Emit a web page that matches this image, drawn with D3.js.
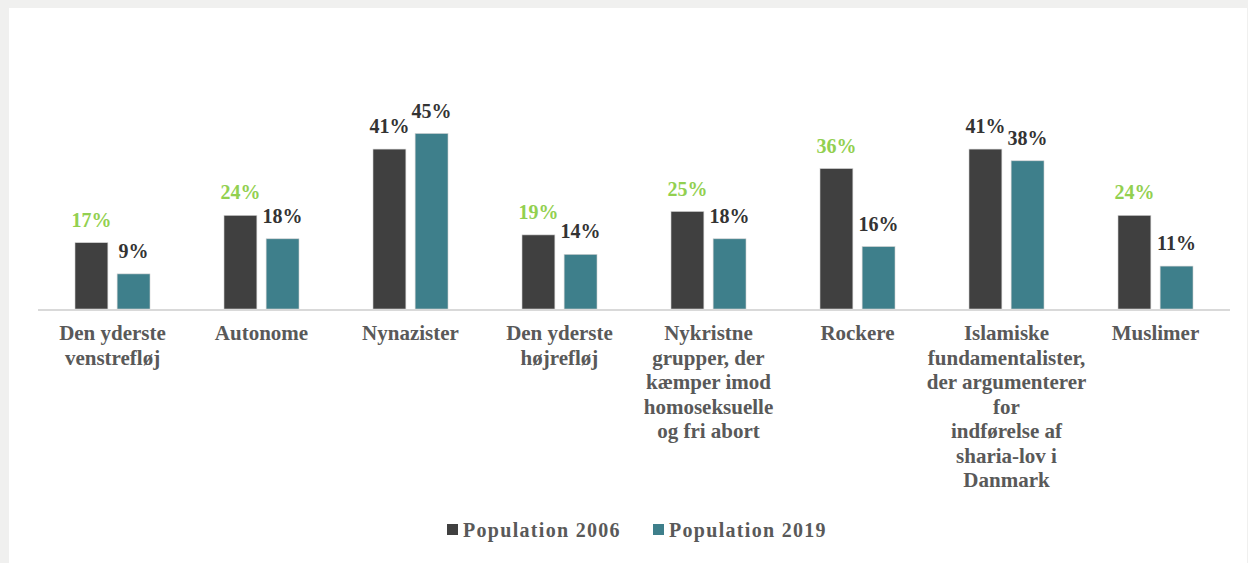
<!DOCTYPE html>
<html>
<head>
<meta charset="utf-8">
<script src="https://cdn.jsdelivr.net/npm/d3@7"></script>
<style>
  html, body { margin: 0; padding: 0; background: #f0f0ef; }
  svg { display: block; }
  text { font-family: "Liberation Serif", "Times New Roman", serif; font-weight: bold; }
</style>
</head>
<body>
<svg id="chart"></svg>
<script>
const categories = [
  ["Den yderste", "venstrefløj"],
  ["Autonome"],
  ["Nynazister"],
  ["Den yderste", "højrefløj"],
  ["Nykristne", "grupper, der", "kæmper imod", "homoseksuelle", "og fri abort"],
  ["Rockere"],
  ["Islamiske", "fundamentalister,", "der argumenterer", "for", "indførelse af", "sharia-lov i", "Danmark"],
  ["Muslimer"]
];
const series = ["Population 2006", "Population 2019"];
const pop2006 = [0.17, 0.24, 0.41, 0.19, 0.25, 0.36, 0.41, 0.24];
const pop2019 = [0.09, 0.18, 0.45, 0.14, 0.18, 0.16, 0.38, 0.11];
// 2006 labels shown in green in the original
const highlight2006 = [true, true, false, true, true, true, false, true];

const W = 1248, H = 563;
const colors = ["#404040", "#3e7f8b"];
const green = "#92d050";

const svg = d3.select("#chart").attr("width", W).attr("height", H);

// white panel
svg.append("rect")
  .attr("x", 9).attr("y", 8)
  .attr("width", W - 10).attr("height", H - 8)
  .attr("fill", "#fff");

const baseY = 309;
const keys = categories.map((c, i) => i);

let x0 = d3.scaleBand()
  .domain(keys)
  .range([38, 1230]);

let x1 = d3.scaleBand()
  .domain(series)
  .range([x0.bandwidth() / 2 - 37.5, x0.bandwidth() / 2 + 37.5])
  .paddingInner(0.22);

let y = d3.scaleLinear()
  .domain([0, 0.5])
  .range([baseY, 114]);

let data = keys.map(i => ({
  i: i,
  values: [
    {s: series[0], v: pop2006[i], hl: highlight2006[i]},
    {s: series[1], v: pop2019[i], hl: false}
  ]
}));

let groups = svg.append("g").selectAll("g")
  .data(data)
  .enter().append("g")
  .attr("transform", d => "translate(" + x0(d.i) + ",0)");

groups.selectAll("rect")
  .data(d => d.values)
  .enter().append("rect")
  .attr("x", d => x1(d.s))
  .attr("y", d => y(d.v))
  .attr("width", x1.bandwidth())
  .attr("height", d => baseY - y(d.v))
  .attr("fill", (d, j) => colors[j])
  .attr("stroke", "#d0d0d0")
  .attr("stroke-width", 0.6);

groups.selectAll("text.val")
  .data(d => d.values)
  .enter().append("text")
  .attr("class", "val")
  .attr("x", d => x1(d.s) + x1.bandwidth() / 2)
  .attr("y", d => y(d.v) - 16)
  .attr("text-anchor", "middle")
  .attr("font-size", 20)
  .attr("fill", d => d.hl ? green : "#333333")
  .text(d => d3.format(".0%")(d.v));

// baseline
svg.append("line")
  .attr("x1", 38).attr("x2", 1230)
  .attr("y1", baseY + 1).attr("y2", baseY + 1)
  .attr("stroke", "#d9d9d9")
  .attr("stroke-width", 2);

// category labels
let xAxis = svg.append("g").attr("class", "x axis");
let labels = xAxis.selectAll("text")
  .data(keys)
  .enter().append("text")
  .attr("x", d => x0(d) + x0.bandwidth() / 2)
  .attr("y", 340)
  .attr("text-anchor", "middle")
  .attr("font-size", 21)
  .attr("fill", "#595959");

labels.each(function (d) {
  let t = d3.select(this);
  categories[d].forEach((line, k) => {
    t.append("tspan")
      .attr("x", x0(d) + x0.bandwidth() / 2)
      .attr("dy", k === 0 ? 0 : 24.5)
      .text(line);
  });
});

// legend
let legend = svg.append("g").attr("transform", "translate(447,530)");
let legX = [0, 206];
series.forEach((s, j) => {
  let g = legend.append("g").attr("transform", "translate(" + legX[j] + ",0)");
  g.append("rect")
    .attr("x", 0).attr("y", -6)
    .attr("width", 11).attr("height", 11)
    .attr("fill", colors[j]);
  g.append("text")
    .attr("x", 16).attr("y", 7)
    .attr("font-size", 20)
    .attr("letter-spacing", 1.3)
    .attr("fill", "#595959")
    .text(s);
});
</script>
</body>
</html>
